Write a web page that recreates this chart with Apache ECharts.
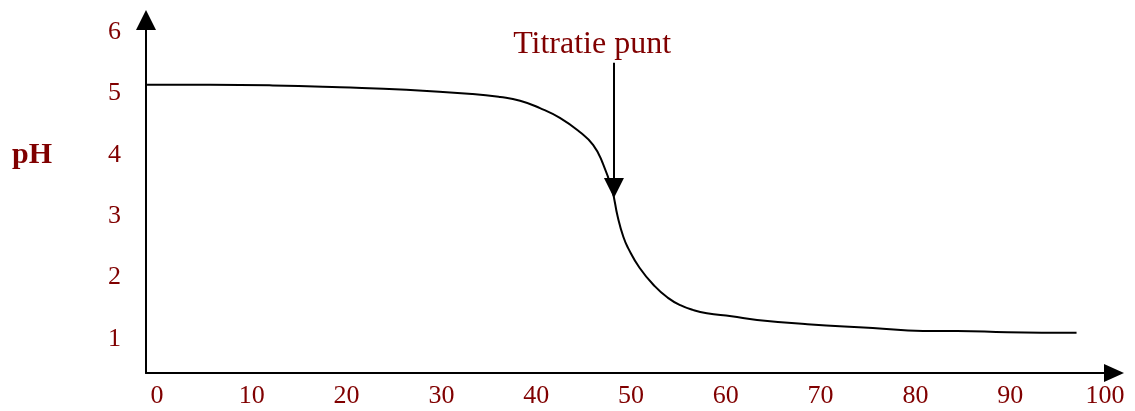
<!DOCTYPE html>
<html>
<head>
<meta charset="utf-8">
<script src="https://cdn.jsdelivr.net/npm/echarts@6/dist/echarts.min.js"></script>
<style>
html,body{margin:0;padding:0;background:#fff;}
#chart{width:1135px;height:411px;}
</style>
</head>
<body>
<div id="chart"></div>
<script>
// Data
const xValues = [-1.05, 5.6, 12.2, 19.3, 26.3, 33.3, 36.2, 38.3, 40.4, 42.5, 44.6, 46.0, 47.0, 48.0, 48.6, 49.2, 49.7, 50.9, 52.5, 53.9, 55.2, 56.6, 58.0, 60.6, 63.3, 68.6, 75.5, 80.8, 84.4, 89.7, 97.0];
const phValues = [5.14, 5.14, 5.13, 5.10, 5.06, 4.99, 4.94, 4.88, 4.76, 4.60, 4.37, 4.16, 3.87, 3.43, 2.99, 2.66, 2.48, 2.16, 1.86, 1.67, 1.55, 1.47, 1.42, 1.37, 1.31, 1.24, 1.18, 1.13, 1.13, 1.11, 1.10];
const xTicks = [0, 10, 20, 30, 40, 50, 60, 70, 80, 90, 100];
const yTicks = [1, 2, 3, 4, 5, 6];
const yAxisTitle = 'pH';
const annotationText = 'Titratie punt';
const annotationX = 48.2;
const annotationFrom = 5.50;
const annotationTo = 3.46;
const annotationLabelPos = [45.9, 5.79];

const labelColor = '#800000';
const fontFamily = '"Liberation Serif", "Times New Roman", serif';

const chart = echarts.init(document.getElementById('chart'), null, {renderer: 'canvas'});
const seriesData = xValues.map((x, i) => [x, phValues[i]]);

chart.setOption({
  animation: false,
  backgroundColor: '#ffffff',
  grid: {left: 146, right: 21, top: 20, bottom: 38, containLabel: false},
  xAxis: {
    type: 'value',
    min: -1.16,
    max: 100.95,
    axisLine: {
      show: true, onZero: false,
      lineStyle: {color: '#000', width: 2},
      symbol: ['none', 'triangle'],
      symbolSize: [18, 20]
    },
    axisTick: {show: false},
    splitLine: {show: false},
    axisLabel: {
      customValues: xTicks,
      color: labelColor,
      fontFamily: fontFamily,
      fontSize: 26,
      margin: 10
    }
  },
  yAxis: {
    type: 'value',
    min: 0.446,
    max: 6.195,
    axisLine: {
      show: true, onZero: false,
      lineStyle: {color: '#000', width: 2},
      symbol: ['none', 'triangle'],
      symbolSize: [20, 20]
    },
    axisTick: {show: false},
    splitLine: {show: false},
    axisLabel: {
      customValues: yTicks,
      color: labelColor,
      fontFamily: fontFamily,
      fontSize: 26,
      margin: 25
    }
  },
  graphic: [{
    type: 'text',
    left: 12,
    top: 140,
    style: {
      text: yAxisTitle,
      fill: labelColor,
      font: 'bold 30px ' + fontFamily
    }
  }],
  series: [{
    type: 'line',
    data: seriesData,
    smooth: 0.5,
    showSymbol: false,
    symbol: 'none',
    lineStyle: {color: '#000', width: 2},
    silent: true,
    markLine: {
      silent: true,
      symbol: ['none', 'triangle'],
      symbolSize: [20, 20],
      label: {show: false},
      lineStyle: {color: '#000', width: 2, type: 'solid'},
      itemStyle: {color: '#000'},
      data: [[{coord: [annotationX, annotationFrom]}, {coord: [annotationX, annotationTo]}]]
    },
    markPoint: {
      silent: true,
      symbol: 'circle',
      symbolSize: 0,
      data: [{
        coord: annotationLabelPos,
        label: {
          show: true,
          position: 'inside',
          formatter: annotationText,
          color: labelColor,
          fontFamily: fontFamily,
          fontSize: 32
        }
      }]
    }
  }]
});
</script>
</body>
</html>
